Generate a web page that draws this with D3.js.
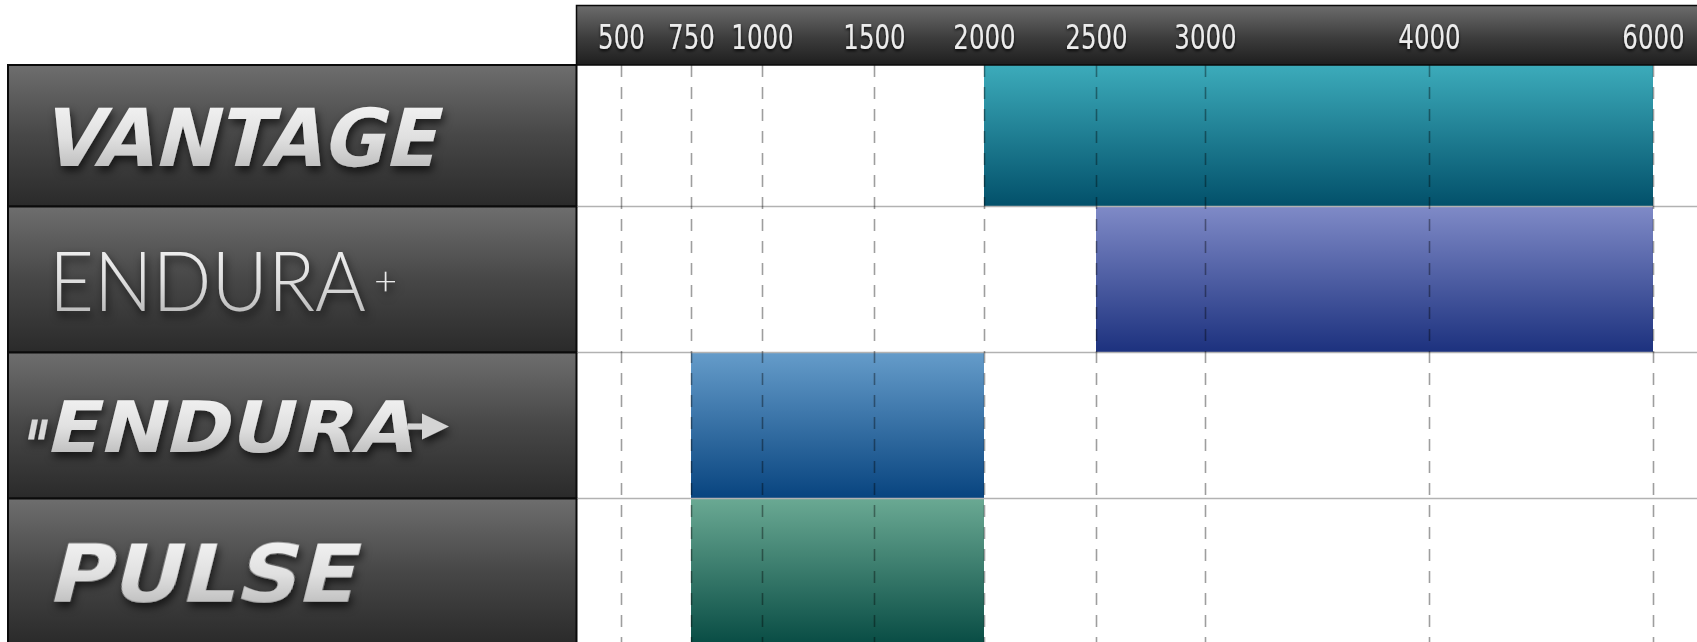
<!DOCTYPE html>
<html>
<head>
<meta charset="utf-8">
<script src="https://cdn.jsdelivr.net/npm/d3@7"></script>
<style>
  html, body { margin: 0; padding: 0; background: #ffffff; overflow: hidden; }
  svg { display: block; }
</style>
</head>
<body>
<svg id="chart" width="1697" height="642"></svg>
<script>
// Product lines and the operating range each one covers
const products   = ["VANTAGE", "ENDURA+", "ENDURA", "PULSE"];
const rangeStart = [2000, 2500, 750, 750];
const rangeEnd   = [6000, 6000, 2000, 2000];
const tickValues = [500, 750, 1000, 1500, 2000, 2500, 3000, 4000, 6000];

// Bar gradient colours (top, bottom) per product
const barTop    = ["#3eaebd", "#7f8ac7", "#659cca", "#6aa993"];
const barBottom = ["#02506a", "#1c317e", "#08447f", "#084c44"];

const W = 1697, H = 642;
const panelLeft = 8, plotLeft = 576.5;
const headerTop = 5.5, headerBottom = 65;

const svg = d3.select("#chart");
const defs = svg.append("defs");

function vGrad(id, stops) {
  const g = defs.append("linearGradient").attr("id", id)
    .attr("x1", 0).attr("y1", 0).attr("x2", 0).attr("y2", 1);
  stops.forEach(([o, c]) => g.append("stop").attr("offset", o).attr("stop-color", c));
}
vGrad("panel-grad", [[0, "#6e6e6e"], [0.5, "#474747"], [1, "#2a2a2a"]]);
vGrad("header-grad", [[0, "#6c6c6c"], [0.55, "#3c3c3c"], [1, "#1e1e1e"]]);
vGrad("logo-grad", [[0, "#f8f8f8"], [0.5, "#e0e0e0"], [1, "#adadad"]]);
products.forEach((p, i) => vGrad("bar-grad-" + i, [[0, barTop[i]], [1, barBottom[i]]]));

const shadow = defs.append("filter").attr("id", "shadow")
  .attr("x", "-20%").attr("y", "-30%").attr("width", "140%").attr("height", "170%");
shadow.append("feDropShadow").attr("dx", 2).attr("dy", 5).attr("stdDeviation", 4)
  .attr("flood-color", "#000").attr("flood-opacity", 0.65);
const textShadow = defs.append("filter").attr("id", "text-shadow")
  .attr("x", "-20%").attr("y", "-30%").attr("width", "140%").attr("height", "170%");
textShadow.append("feDropShadow").attr("dx", 0).attr("dy", 2).attr("stdDeviation", 1.5)
  .attr("flood-color", "#000").attr("flood-opacity", 0.8);

// Piecewise scale: each interval of the operating range gets its own width
const x = d3.scaleLinear()
  .domain(tickValues)
  .range([621, 691, 762, 874, 984, 1096, 1205, 1429, 1653]);

const y = d3.scaleBand()
  .domain(products)
  .range([60.5, 644.5])
  .padding(0);

// Left-hand label panels
svg.append("g").selectAll("rect")
  .data(products)
  .join("rect")
  .attr("x", panelLeft)
  .attr("y", d => Math.max(y(d), headerBottom))
  .attr("width", plotLeft - panelLeft)
  .attr("height", d => y(d) + y.bandwidth() - Math.max(y(d), headerBottom))
  .attr("fill", "url(#panel-grad)")
  .attr("stroke", "#0b0b0b")
  .attr("stroke-width", 2);

// Range bars
svg.append("g").selectAll("rect")
  .data(products)
  .join("rect")
  .attr("x", (d, i) => x(rangeStart[i]))
  .attr("y", d => y(d))
  .attr("width", (d, i) => x(rangeEnd[i]) - x(rangeStart[i]))
  .attr("height", y.bandwidth())
  .attr("fill", (d, i) => "url(#bar-grad-" + i + ")");

// Row separators across the plot area
svg.append("g").selectAll("line")
  .data(products.slice(1))
  .join("line")
  .attr("x1", plotLeft + 1).attr("x2", W)
  .attr("y1", d => y(d)).attr("y2", d => y(d))
  .attr("stroke", "#b2b2b2")
  .attr("stroke-width", 1.5);

// Dashed vertical gridlines at each tick
const grid = svg.append("g")
  .attr("transform", `translate(0,${headerBottom})`)
  .call(d3.axisBottom(x).tickValues(tickValues).tickSize(H - headerBottom).tickFormat(""));
grid.select(".domain").remove();
grid.selectAll(".tick line")
  .attr("stroke", "rgba(0,0,0,0.38)")
  .attr("stroke-width", 1.6)
  .attr("stroke-dasharray", "12,10");

// Header band holding the tick labels
svg.append("rect")
  .attr("x", plotLeft).attr("y", headerTop)
  .attr("width", W - plotLeft + 10).attr("height", headerBottom - headerTop)
  .attr("fill", "url(#header-grad)")
  .attr("stroke", "#0a0a0a").attr("stroke-width", 1.5);

const fmt = d3.format("d");
const axis = svg.append("g")
  .attr("transform", `translate(0,${(headerTop + headerBottom) / 2 + 1})`)
  .call(d3.axisTop(x).tickValues(tickValues).tickSize(0).tickPadding(0).tickFormat(fmt));
axis.select(".domain").remove();
axis.selectAll(".tick text")
  .attr("y", 0)
  .attr("dy", "0.36em")
  .attr("fill", "#ececec")
  .attr("font-family", "'DejaVu Sans Condensed', 'DejaVu Sans', sans-serif")
  .attr("font-size", 34)
  .attr("textLength", d => fmt(d).length * 15.6)
  .attr("lengthAdjust", "spacingAndGlyphs")
  .attr("filter", "url(#text-shadow)");

// Product name plates
const labels = svg.append("g").attr("filter", "url(#shadow)");
const mid = d => y(d) + y.bandwidth() / 2;

// VANTAGE – heavy oblique lettering
labels.append("text")
  .attr("transform", `translate(40,${mid(products[0]) + 32}) skewX(-14)`)
  .attr("font-family", "'DejaVu Sans', sans-serif")
  .attr("font-weight", "bold")
  .attr("font-size", 80)
  .attr("textLength", 395)
  .attr("lengthAdjust", "spacingAndGlyphs")
  .attr("fill", "url(#logo-grad)")
  .text(products[0]);

// ENDURA+ – light lettering with a small raised plus
const plusLabel = labels.append("text")
  .attr("x", 49).attr("y", mid(products[1]) + 31.5)
  .attr("font-family", "Lato, Inter, 'Open Sans', sans-serif")
  .attr("font-weight", 300)
  .attr("fill", "url(#logo-grad)");
plusLabel.append("tspan")
  .attr("font-size", 82)
  .attr("textLength", 317)
  .attr("lengthAdjust", "spacingAndGlyphs")
  .text(products[1].slice(0, -1));
plusLabel.append("tspan")
  .attr("dx", 8).attr("dy", -16)
  .attr("font-size", 40)
  .attr("fill", "#eaeaea")
  .text(products[1].slice(-1));

// ENDURA – oblique lettering with speed marks and an arrow
const eMid = mid(products[2]);
const endura = labels.append("g").attr("fill", "url(#logo-grad)");
endura.append("text")
  .attr("transform", `translate(44,${eMid + 26.5}) skewX(-14)`)
  .attr("font-family", "'DejaVu Sans', sans-serif")
  .attr("font-weight", "bold")
  .attr("font-size", 71)
  .attr("textLength", 368)
  .attr("lengthAdjust", "spacingAndGlyphs")
  .text(products[2]);
[0, 10].forEach(dx => {
  endura.append("path")
    .attr("d", `M${28 + dx},${eMid + 14} l6,0 l4,-20 l-6,0 Z`)
    .attr("fill", "#d8d8d8");
});
endura.append("path")
  .attr("d", `M408,${eMid - 2} L422,${eMid - 2} L422,${eMid - 12} L449,${eMid + 1} L422,${eMid + 14} L422,${eMid + 4} L406,${eMid + 4} Z`)
  .attr("fill", "#d4d4d4");

// PULSE – heavy oblique lettering
labels.append("text")
  .attr("transform", `translate(46,${mid(products[3]) + 30.5}) skewX(-14)`)
  .attr("font-family", "'DejaVu Sans', sans-serif")
  .attr("font-weight", "bold")
  .attr("font-size", 80)
  .attr("textLength", 308)
  .attr("lengthAdjust", "spacingAndGlyphs")
  .attr("fill", "url(#logo-grad)")
  .text(products[3]);
</script>
</body>
</html>
